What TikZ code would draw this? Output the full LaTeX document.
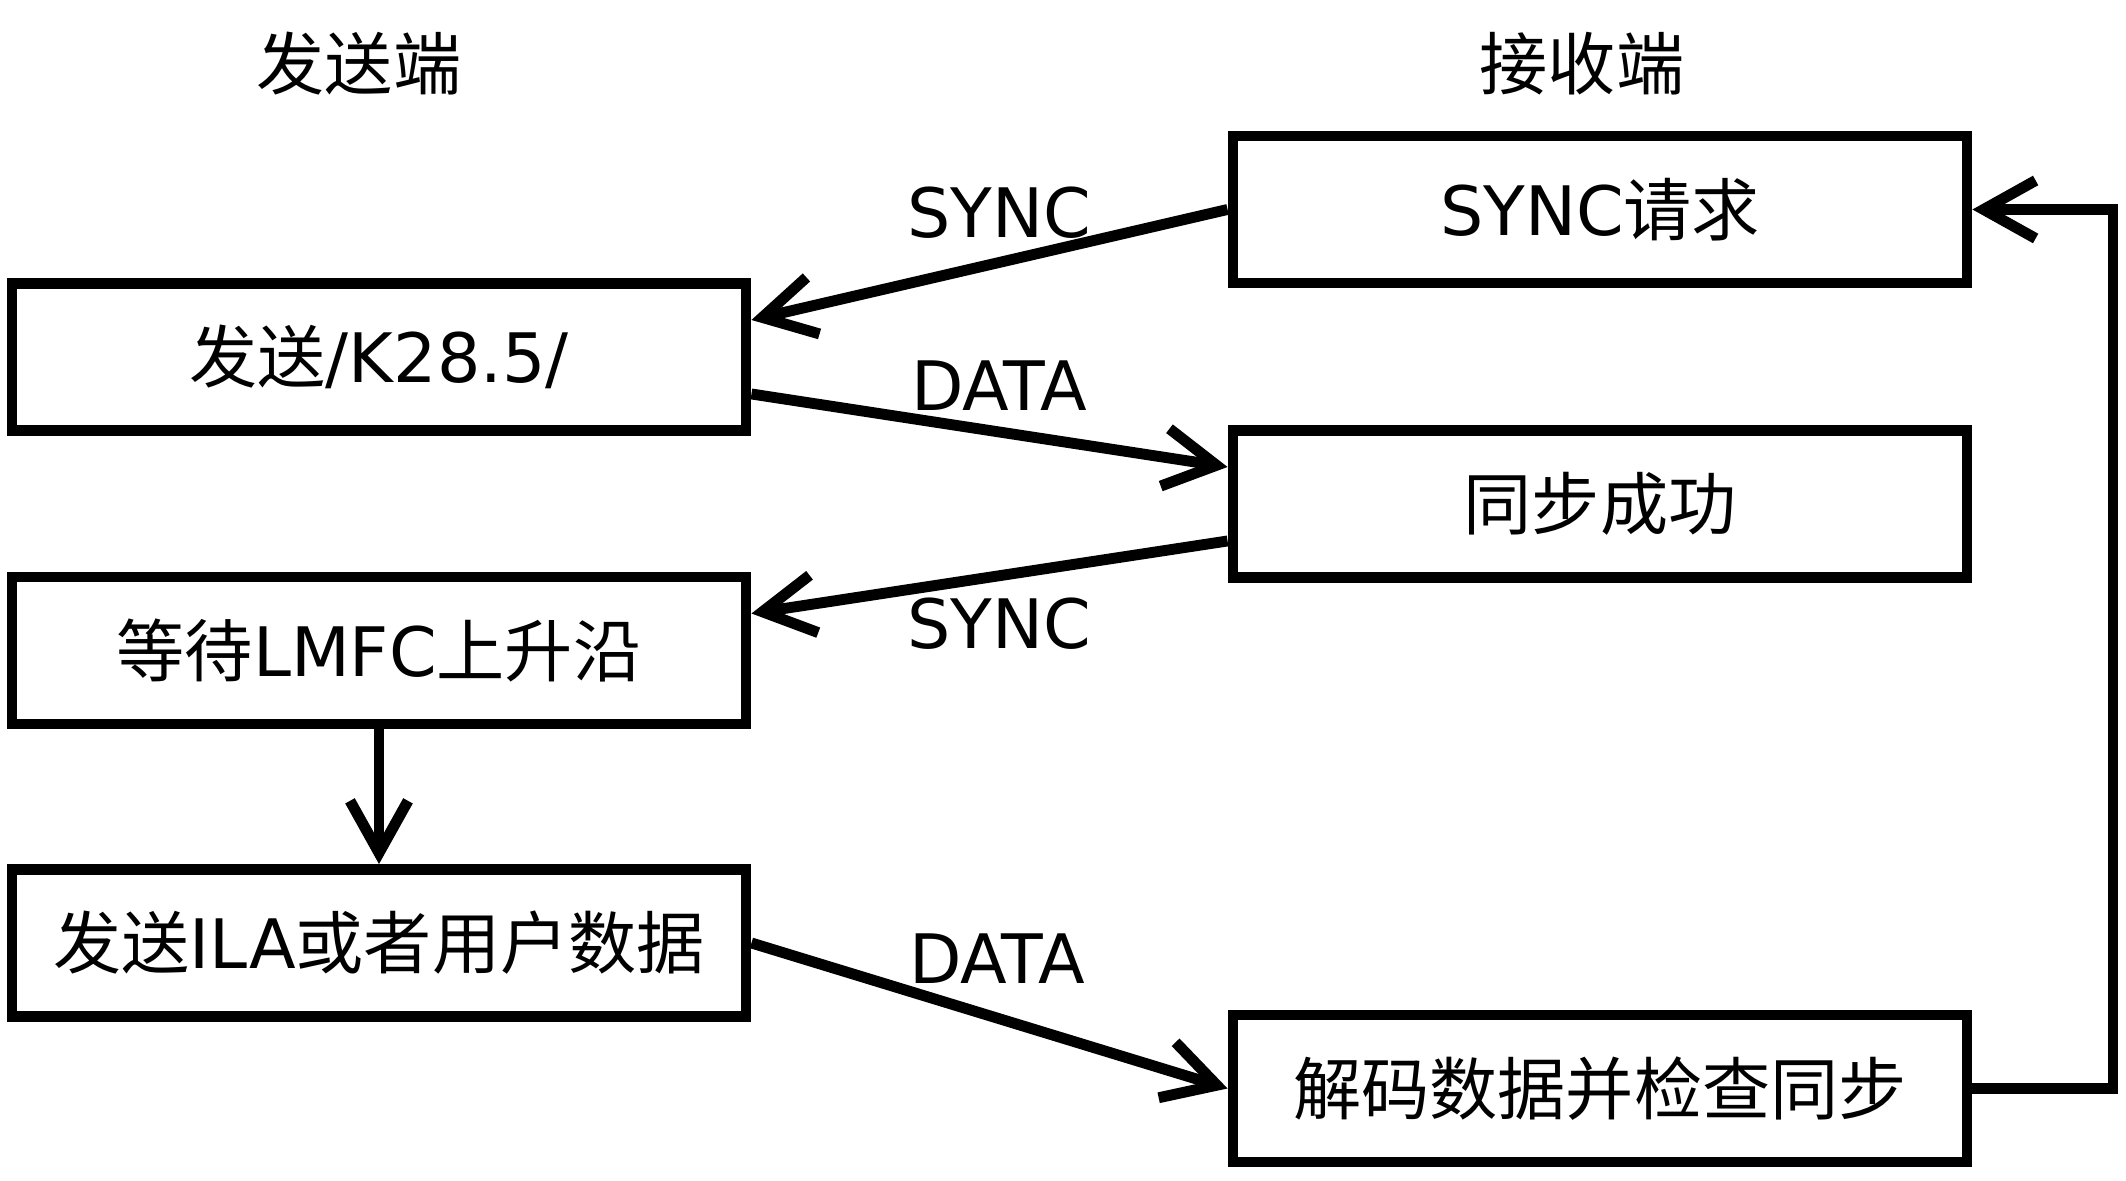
\documentclass[tikz,border=0pt]{standalone}
\usepackage{fontspec}
\setmainfont{DejaVu Sans}
\newfontfamily\cjk{Noto Sans CJK SC}
\usetikzlibrary{arrows.meta,calc}
\newcommand\zhtext[1]{{\cjk #1}}
\tikzset{
  every picture/.style={font=\fontsize{19.4}{23}\selectfont},
  stage/.style={draw,line width=3.1pt,minimum width=7.34cm,minimum height=1.47cm,inner sep=0pt},
  flow/.style={line width=3.1pt,-{Straight Barb[length=0.52cm,width=0.58cm]}},
  tag/.style={inner sep=0pt},
}
\begin{document}
\begin{tikzpicture}
  \useasboundingbox (0,0) rectangle (21.26,11.81);
  % column titles
  \node[tag] (tx) at (3.59,11.17) {\zhtext{发送端}};
  \node[tag] (rx) at (15.82,11.17) {\zhtext{接收端}};
  % sender side
  \node[stage] (kchar) at (3.79,8.24) {\zhtext{发送}/K28.5/};
  \node[stage] (lmfc) at (3.79,5.305) {\zhtext{等待}LMFC\zhtext{上升沿}};
  \node[stage] (ila) at (3.79,2.38) {\zhtext{发送}ILA\zhtext{或者用户数据}};
  % receiver side
  \node[stage] (syncreq) at (16.00,9.715) {SYNC\zhtext{请求}};
  \node[stage] (syncok) at (16.00,6.77) {\zhtext{同步成功}};
  \node[stage] (decode) at (16.00,0.925) {\zhtext{解码数据并检查同步}};
  % messages between the two sides
  \draw[flow] (syncreq.west) -- ([yshift=0.37cm]kchar.east);
  \draw[flow] ([yshift=-0.37cm]kchar.east) -- ([yshift=0.37cm]syncok.west);
  \draw[flow] ([yshift=-0.37cm]syncok.west) -- ([yshift=0.37cm]lmfc.east);
  \draw[flow] (ila.east) -- (decode.west);
  \draw[flow] (lmfc.south) -- (ila.north);
  % loop back to the request
  \coordinate (back) at (21.13,9.715);
  \draw[flow] (decode.east) -| (back) -- (syncreq.east);
  \node[tag] (sync1) at (9.99,9.68) {SYNC};
  \node[tag] (data1) at (9.99,7.95) {DATA};
  \node[tag] (sync2) at (9.99,5.57) {SYNC};
  \node[tag] (data2) at (9.97,2.22) {DATA};
\end{tikzpicture}
\end{document}
